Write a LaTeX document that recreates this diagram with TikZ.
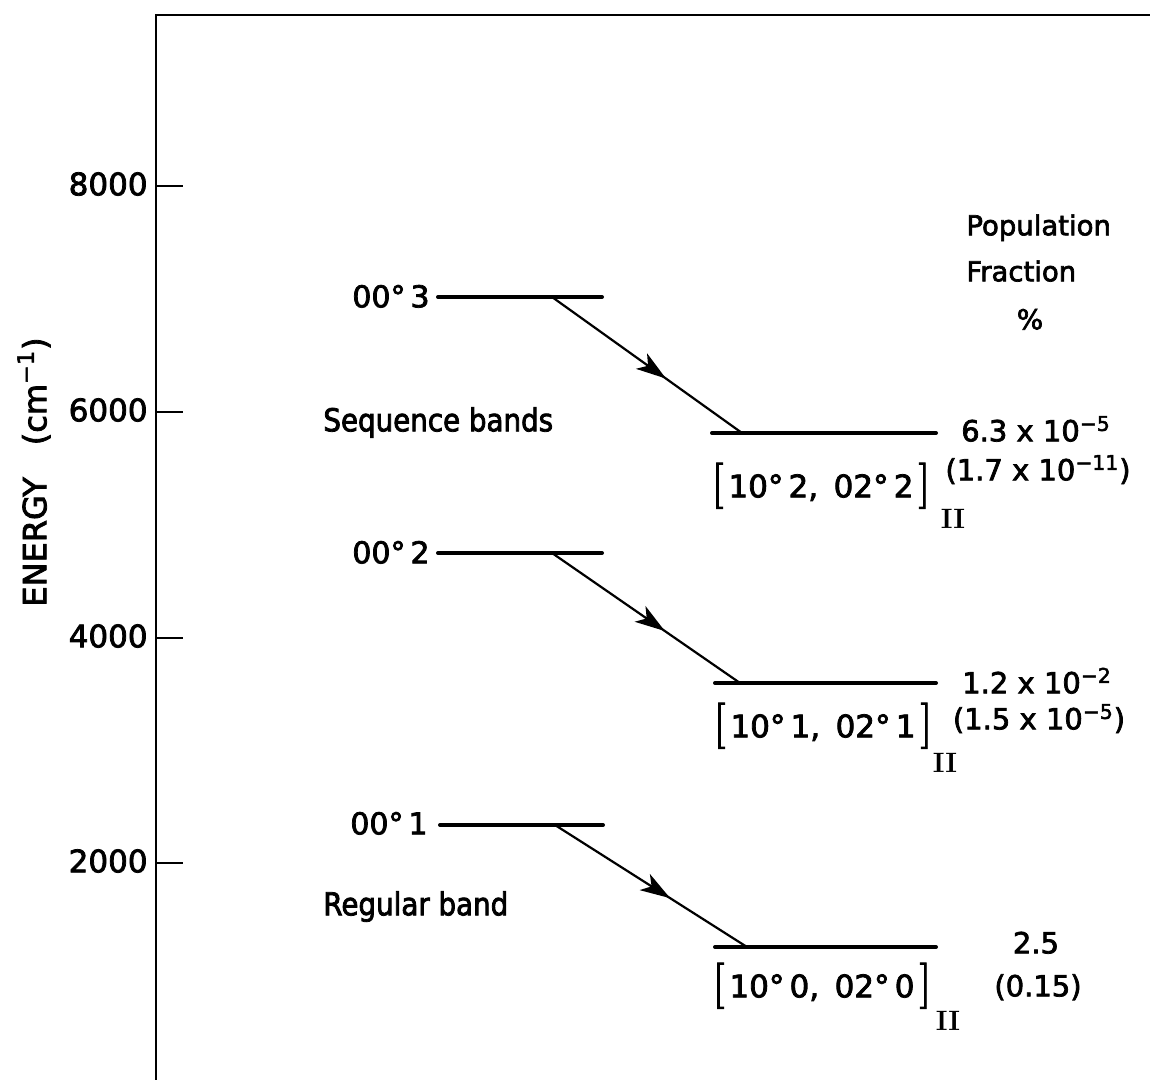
\documentclass[tikz,border=0pt]{standalone}
\usepackage{fontspec}
\setmainfont[FakeBold=2.5]{DejaVu Sans}
\newfontfamily\wordf[FakeStretch=0.88,FakeBold=2.5]{DejaVu Sans}
\newfontfamily\romf{Latin Modern Roman}
\newfontfamily\brf[FakeBold=2]{Latin Modern Roman}
\usetikzlibrary{arrows.meta,decorations.markings}
\newcommand\lbr{{\brf\fontsize{23}{23}\selectfont[}}
\newcommand\rbr{{\brf\fontsize{23}{23}\selectfont]}}
\tikzset{
  lbl/.style={inner sep=0pt, text height=0.73em, text depth=0pt},
  ticklbl/.style={lbl, anchor=east, font=\fontsize{15.5}{18}\selectfont},
  lvllbl/.style={lbl, anchor=east, font=\fontsize{15}{18}\selectfont},
  wordlbl/.style={lbl, anchor=west, font=\wordf\fontsize{15.75}{18}\selectfont},
  poplbl/.style={lbl, anchor=west, font=\fontsize{13.75}{16}\selectfont},
  vallbl/.style={lbl, font=\fontsize{14.5}{17}\selectfont},
  brlbl/.style={lbl, font=\fontsize{15.5}{18}\selectfont},
  sublbl/.style={lbl, font=\romf\bfseries\fontsize{14}{16}\selectfont},
  level/.style={line width=2pt, line cap=round},
  axisline/.style={line width=1.3pt},
  trans/.style={line width=1.1pt, postaction={decorate},
    decoration={markings, mark=at position 0.6 with {\arrow{Stealth[length=15pt,width=9.5pt,inset=4pt]}}}}
}
\begin{document}
\begin{tikzpicture}[x=0.5pt,y=-0.5pt]
\useasboundingbox (0,0) rectangle (1150,1080);
% axes
\coordinate (ax0) at (156,1080);
\coordinate (ax1) at (156,15);
\coordinate (ax2) at (1150,15);
\draw[axisline] (ax0) -- (ax1) -- (ax2);
% ticks
\foreach \v/\y in {8000/186,6000/412,4000/638,2000/863}{
  \coordinate (t\v a) at (156,\y);
  \coordinate (t\v b) at (183,\y);
  \draw[axisline] (t\v a) -- (t\v b);
  \node[ticklbl] (tl\v) at (148,\y+2) {\v};
}
% axis title
\node[lbl, rotate=90, font=\fontsize{16}{18}\selectfont] (ylab) at (39,472) {ENERGY\quad(cm\textsuperscript{−1})};
% population header
\node[poplbl] (pop1) at (966,228) {Population};
\node[poplbl] (pop2) at (966,274) {Fraction};
\node[lbl, font=\fontsize{13.75}{16}\selectfont] (pop3) at (1030,322) {\%};
% band labels
\node[wordlbl] (seq) at (323,424) {Sequence bands};
\node[wordlbl] (reg) at (323,908) {Regular band};

% ---- level set 3 ----
\coordinate (u3a) at (438,297); \coordinate (u3b) at (602,297);
\coordinate (l3a) at (712,433); \coordinate (l3b) at (936,433);
\coordinate (u3s) at (552,297); \coordinate (l3s) at (742,433);
\draw[level] (u3a) -- (u3b);
\draw[level] (l3a) -- (l3b);
\draw[trans] (u3s) -- (l3s);
\node[lvllbl] (n3) at (430,300) {00°\,3};
\node[brlbl] (b3) at (821,490) {\lbr\,10°\,2,\enspace 02°\,2\,\rbr};
\node[sublbl] (s3) at (953,521) {II};
\node[vallbl] (v3a) at (1036,434) {6.3 x 10\textsuperscript{−5}};
\node[vallbl] (v3b) at (1038,473) {(1.7 x 10\textsuperscript{−11})};

% ---- level set 2 ----
\coordinate (u2a) at (438,553); \coordinate (u2b) at (602,553);
\coordinate (l2a) at (715,683); \coordinate (l2b) at (936,683);
\coordinate (u2s) at (552,553); \coordinate (l2s) at (740,683);
\draw[level] (u2a) -- (u2b);
\draw[level] (l2a) -- (l2b);
\draw[trans] (u2s) -- (l2s);
\node[lvllbl] (n2) at (430,556) {00°\,2};
\node[brlbl] (b2) at (823,730) {\lbr\,10°\,1,\enspace 02°\,1\,\rbr};
\node[sublbl] (s2) at (945,765) {II};
\node[vallbl] (v2a) at (1037,686) {1.2 x 10\textsuperscript{−2}};
\node[vallbl] (v2b) at (1039,722) {(1.5 x 10\textsuperscript{−5})};

% ---- level set 1 ----
\coordinate (u1a) at (440,825); \coordinate (u1b) at (603,825);
\coordinate (l1a) at (715,947); \coordinate (l1b) at (936,947);
\coordinate (u1s) at (555,825); \coordinate (l1s) at (747,947);
\draw[level] (u1a) -- (u1b);
\draw[level] (l1a) -- (l1b);
\draw[trans] (u1s) -- (l1s);
\node[lvllbl] (n1) at (428,827) {00°\,1};
\node[brlbl] (b1) at (822,990) {\lbr\,10°\,0,\enspace 02°\,0\,\rbr};
\node[sublbl] (s1) at (948,1023) {II};
\node[vallbl] (v1a) at (1036,946) {2.5};
\node[vallbl] (v1b) at (1038,989) {(0.15)};
\end{tikzpicture}
\end{document}
